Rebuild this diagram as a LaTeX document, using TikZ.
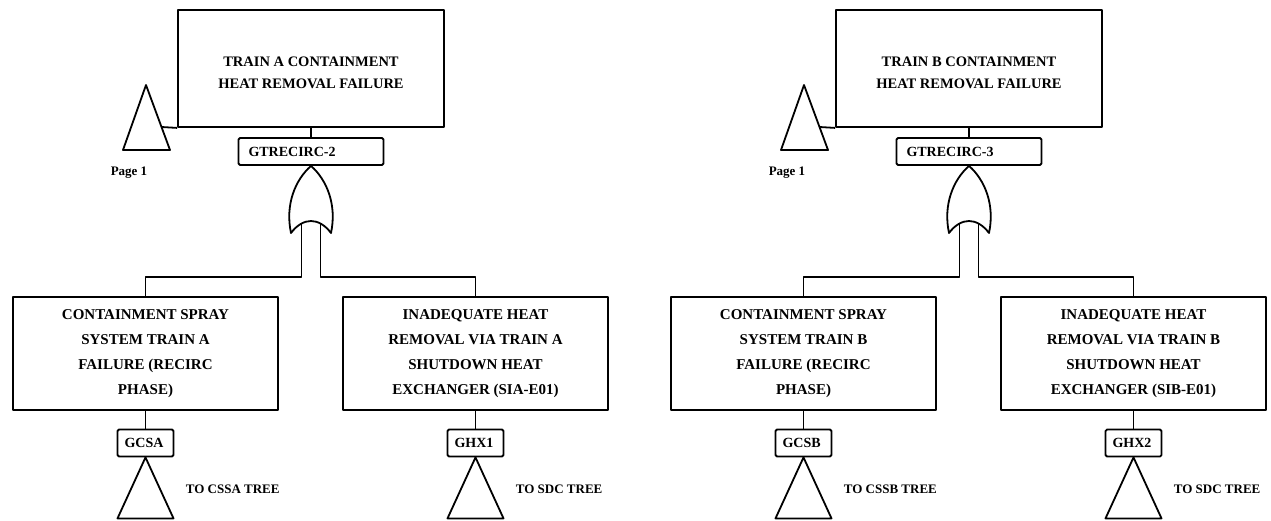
\documentclass[tikz,border=0pt]{standalone}
\usepackage{fontspec}
\setmainfont{Liberation Serif}
\begin{document}
\begin{tikzpicture}[x=1pt,y=-1pt,
  line width=1.8pt, line join=round,
  evbox/.style={draw, rectangle, align=center, inner sep=0pt},
  topbox/.style={evbox, minimum width=266pt, minimum height=117pt},
  toptext/.style={inner sep=0pt, align=center, yshift=-4pt,
    font=\bfseries\fontsize{14.5}{22}\selectfont},
  basicbox/.style={evbox, minimum width=265pt, minimum height=113pt,
    font=\bfseries\fontsize{15}{25}\selectfont},
  idbox/.style={draw, rectangle, rounded corners=1.5pt, inner ysep=0pt,
    minimum height=27pt, align=left, font=\bfseries\fontsize{14}{14}\selectfont},
  gateid/.style={idbox, inner xsep=10pt, text width=125pt},
  eventid/.style={idbox, inner xsep=7pt, text width=42pt},
  tag/.style={inner sep=0pt, anchor=west, font=\bfseries\fontsize{13}{13}\selectfont},
  pagetag/.style={inner sep=0pt, font=\bfseries\fontsize{13}{13}\selectfont},
]
\useasboundingbox (0,0) rectangle (1271,520);

% ---------------- Train A ----------------
\node[topbox] (Atop) at (311,68.5) {};
\node[toptext] (Atoptext) at (Atop.center) {TRAIN A CONTAINMENT\\HEAT REMOVAL FAILURE};
\node[gateid] (Agid) at (311,151.5) {GTRECIRC-2};
\draw (Atop.south) -- (Agid.north);

% transfer-in triangle from page 1
\coordinate (Ptip) at (146,85);
\coordinate (Pjoin) at (161.6,127);
\draw (Ptip) -- (170,150) -- (123,150) -- cycle;
\draw (Pjoin) -- (Atop.south west);
\node[pagetag] (Apage) at (129,173) {Page 1};

% OR gate
\draw (Agid.south) .. controls (295,180) and (285,205) .. (291,233)
  .. controls (303,217) and (319,217) .. (331,233)
  .. controls (337,205) and (327,180) .. (Agid.south);
\coordinate (Ain1) at (301.5,224.2);
\coordinate (Ain2) at (320.5,224.2);
\coordinate (Abus) at (0,277);

\node[basicbox] (A1) at (145.5,353.5)
  {CONTAINMENT SPRAY\\SYSTEM TRAIN A\\FAILURE (RECIRC\\PHASE)};
\node[basicbox] (A2) at (475.5,353.5)
  {INADEQUATE HEAT\\REMOVAL VIA TRAIN A\\SHUTDOWN HEAT\\EXCHANGER (SIA-E01)};
\draw (Ain1) -- (Ain1 |- Abus) -| (A1.north);
\draw (Ain2) -- (Ain2 |- Abus) -| (A2.north);

\node[eventid] (A1id) at (145.5,443) {GCSA};
\node[eventid] (A2id) at (475.5,443) {GHX1};
\draw (A1.south) -- (A1id.north);
\draw (A2.south) -- (A2id.north);
\draw (A1id.south) -- ++(-28,61) -- ++(56,0) -- cycle;
\draw (A2id.south) -- ++(-28,61) -- ++(56,0) -- cycle;
\node[tag] (A1tag) at (185,489) {TO CSSA TREE};
\node[tag] (A2tag) at (515,489) {TO SDC TREE};

% ---------------- Train B ----------------
\begin{scope}[xshift=658pt]
\node[topbox] (Btop) at (311,68.5) {};
\node[toptext] (Btoptext) at (Btop.center) {TRAIN B CONTAINMENT\\HEAT REMOVAL FAILURE};
\node[gateid] (Bgid) at (311,151.5) {GTRECIRC-3};
\draw (Btop.south) -- (Bgid.north);

\coordinate (Qtip) at (146,85);
\coordinate (Qjoin) at (161.6,127);
\draw (Qtip) -- (170,150) -- (123,150) -- cycle;
\draw (Qjoin) -- (Btop.south west);
\node[pagetag] (Bpage) at (129,173) {Page 1};

\draw (Bgid.south) .. controls (295,180) and (285,205) .. (291,233)
  .. controls (303,217) and (319,217) .. (331,233)
  .. controls (337,205) and (327,180) .. (Bgid.south);
\coordinate (Bin1) at (301.5,224.2);
\coordinate (Bin2) at (320.5,224.2);
\coordinate (Bbus) at (0,277);

\node[basicbox] (B1) at (145.5,353.5)
  {CONTAINMENT SPRAY\\SYSTEM TRAIN B\\FAILURE (RECIRC\\PHASE)};
\node[basicbox] (B2) at (475.5,353.5)
  {INADEQUATE HEAT\\REMOVAL VIA TRAIN B\\SHUTDOWN HEAT\\EXCHANGER (SIB-E01)};
\draw (Bin1) -- (Bin1 |- Bbus) -| (B1.north);
\draw (Bin2) -- (Bin2 |- Bbus) -| (B2.north);

\node[eventid] (B1id) at (145.5,443) {GCSB};
\node[eventid] (B2id) at (475.5,443) {GHX2};
\draw (B1.south) -- (B1id.north);
\draw (B2.south) -- (B2id.north);
\draw (B1id.south) -- ++(-28,61) -- ++(56,0) -- cycle;
\draw (B2id.south) -- ++(-28,61) -- ++(56,0) -- cycle;
\node[tag] (B1tag) at (185,489) {TO CSSB TREE};
\node[tag] (B2tag) at (515,489) {TO SDC TREE};
\end{scope}
\end{tikzpicture}
\end{document}
